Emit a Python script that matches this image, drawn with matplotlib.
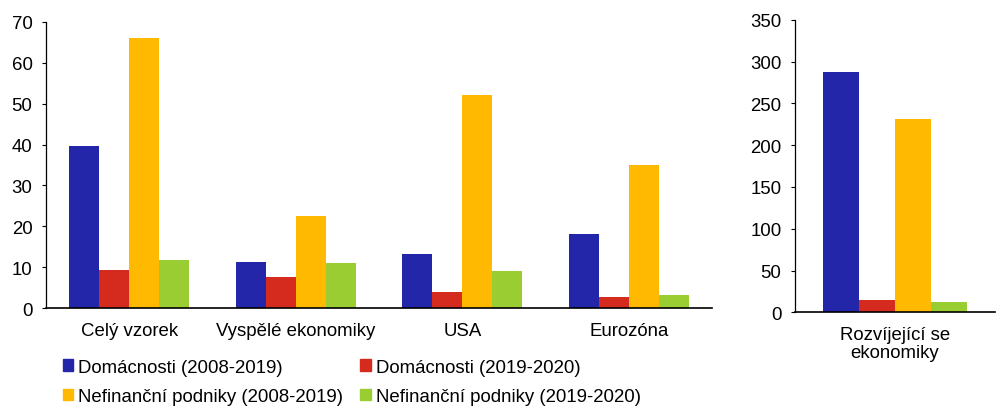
import matplotlib
matplotlib.use("Agg")
import matplotlib.pyplot as plt
from matplotlib.patches import Patch
import numpy as np

plt.rcParams['font.family'] = ['Liberation Sans', 'DejaVu Sans']

# data
categories = ["Celý vzorek", "Vyspělé ekonomiky", "USA", "Eurozóna"]
dom_0819 = [39.6, 11.3, 13.2, 18.1]
dom_1920 = [9.4, 7.7, 4.0, 2.8]
nfp_0819 = [66.0, 22.5, 52.1, 35.0]
nfp_1920 = [11.8, 11.1, 9.1, 3.3]

em_category = ["Rozvíjející se\nekonomiky"]
em_values = [287, 14.5, 231, 12]

labels = ["Domácnosti (2008-2019)", "Domácnosti (2019-2020)",
          "Nefinanční podniky (2008-2019)", "Nefinanční podniky (2019-2020)"]
colors = ["#2326a8", "#d52b1e", "#ffb900", "#9acd32"]

fs = 13.4

fig = plt.figure(figsize=(10.02, 4.14), dpi=100)
ax = fig.add_axes([0.0459, 0.2529, 0.6647, 0.6923])
ax2 = fig.add_axes([0.7934, 0.2432, 0.1996, 0.7068])

w = 0.18
x = np.arange(len(categories))
series = [dom_0819, dom_1920, nfp_0819, nfp_1920]
for i, s in enumerate(series):
    ax.bar(x + (i - 1.5) * w, s, w, color=colors[i], label=labels[i])

# emerging economies on separate scale
for i, v in enumerate(em_values):
    ax2.bar((i - 1.5) * w, v, w, color=colors[i])

ax.set_xlim(-0.5, len(categories) - 0.5)
ax.set_ylim(0, 70)
ax.set_yticks(np.arange(0, 71, 10))
ax.set_xticks(x)
ax.set_xticklabels(categories)

ax2.set_xlim(-0.5, 0.5)
ax2.set_ylim(0, 350)
ax2.set_yticks(np.arange(0, 351, 50))
ax2.set_xticks([0])
ax2.set_xticklabels(em_category, linespacing=1.05)

for a in (ax, ax2):
    a.spines['top'].set_visible(False)
    a.spines['right'].set_visible(False)
    a.spines['left'].set_linewidth(0.9)
    a.spines['bottom'].set_linewidth(1.2)
    a.tick_params(axis='y', labelsize=fs, length=3.2, width=0.8, pad=6.5)
    a.tick_params(axis='x', labelsize=fs, length=0, pad=10)

# legend: rows = households / corporations
order = [0, 2, 1, 3]
handles = [Patch(color=colors[i]) for i in order]
fig.legend(handles, [labels[i] for i in order], loc='upper left',
           bbox_to_anchor=(0.0625, 0.131), ncol=2, frameon=False,
           fontsize=fs, handlelength=0.58, handleheight=0.58,
           handletextpad=0.27, columnspacing=0.9, labelspacing=0.66,
           borderaxespad=0, borderpad=0)

fig.savefig("out.png", dpi=100)
